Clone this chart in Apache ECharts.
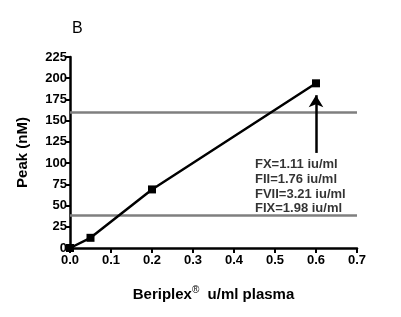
<!DOCTYPE html>
<html>
<head>
<meta charset="utf-8">
<script src="https://cdn.jsdelivr.net/npm/echarts@6/dist/echarts.min.js"></script>
<style>html,body{margin:0;padding:0;background:#fff}#c{width:401px;height:317px}</style>
</head>
<body>
<div id="c"></div>
<script>
const doses = [0, 0.05, 0.2, 0.6];
const peaks = [0, 12, 69, 194];
const refLevels = [160, 38];
const arrowX = 0.6;
const arrowFrom = 112;
const arrowTo = 180;
const noteLines = ['FX=1.11 iu/ml', 'FII=1.76 iu/ml', 'FVII=3.21 iu/ml', 'FIX=1.98 iu/ml'];
const xTicks = [0, 0.1, 0.2, 0.3, 0.4, 0.5, 0.6, 0.7];
const yTicks = [0, 25, 50, 75, 100, 125, 150, 175, 200, 225];

const font = 'Liberation Sans, Arial, sans-serif';
const chart = echarts.init(document.getElementById('c'), null, {renderer: 'canvas'});
chart.setOption({
  animation: false,
  backgroundColor: '#fff',
  graphic: [{
    type: 'text', left: 72, top: 21,
    style: {text: 'B', font: '16px ' + font, fill: '#000'}
  }],
  grid: {left: 70, right: 44, top: 57, bottom: 69},
  xAxis: {
    type: 'value', min: xTicks[0], max: xTicks[xTicks.length - 1], interval: 0.1,
    splitLine: {show: false},
    axisLine: {lineStyle: {color: '#000', width: 2.5}},
    axisTick: {length: 5, lineStyle: {color: '#000', width: 2}},
    axisLabel: {color: '#000', fontWeight: 'bold', fontSize: 13, fontFamily: font, margin: 6,
      formatter: v => v.toFixed(1)},
    name: '{t|Beriplex}{s|®}{t|  u/ml plasma}',
    nameLocation: 'middle', nameGap: 37,
    nameTextStyle: {
      rich: {
        t: {fontWeight: 'bold', fontSize: 15, fontFamily: font, color: '#000'},
        s: {fontSize: 10, fontFamily: font, color: '#000', verticalAlign: 'top', padding: [0, 0, 9, 0]}
      }
    }
  },
  yAxis: {
    type: 'value', min: yTicks[0], max: yTicks[yTicks.length - 1], interval: 25,
    splitLine: {show: false},
    axisLine: {show: true, lineStyle: {color: '#000', width: 2.5}},
    axisTick: {show: true, length: 5, lineStyle: {color: '#000', width: 2}},
    axisLabel: {color: '#000', fontWeight: 'bold', fontSize: 13, fontFamily: font, margin: 3},
    name: 'Peak (nM)', nameLocation: 'middle', nameGap: 40,
    nameTextStyle: {fontWeight: 'bold', fontSize: 15, fontFamily: font, color: '#000'}
  },
  series: [
    {
      type: 'line',
      data: doses.map((d, i) => [d, peaks[i]]),
      symbol: 'rect', symbolSize: 8,
      lineStyle: {color: '#000', width: 2.5},
      itemStyle: {color: '#000'},
      z: 5,
      markLine: {
        silent: true, symbol: 'none',
        lineStyle: {color: '#7f7f7f', width: 2.5, type: 'solid'},
        label: {show: false},
        data: refLevels.map(v => ({yAxis: v}))
      }
    },
    {
      type: 'scatter',
      data: [[arrowX, arrowFrom]],
      symbolSize: 0,
      label: {
        show: true, position: [-61, 4], align: 'left', verticalAlign: 'top',
        formatter: noteLines.join('\n'),
        fontWeight: 'bold', fontSize: 13, fontFamily: font, color: '#000', lineHeight: 14.8
      },
      markLine: {
        silent: true, symbol: ['none', 'arrow'], symbolSize: [11, 12],
        lineStyle: {color: '#000', width: 2.5, type: 'solid'},
        label: {show: false},
        data: [[{coord: [arrowX, arrowFrom]}, {coord: [arrowX, arrowTo]}]]
      }
    }
  ]
});
</script>
</body>
</html>
